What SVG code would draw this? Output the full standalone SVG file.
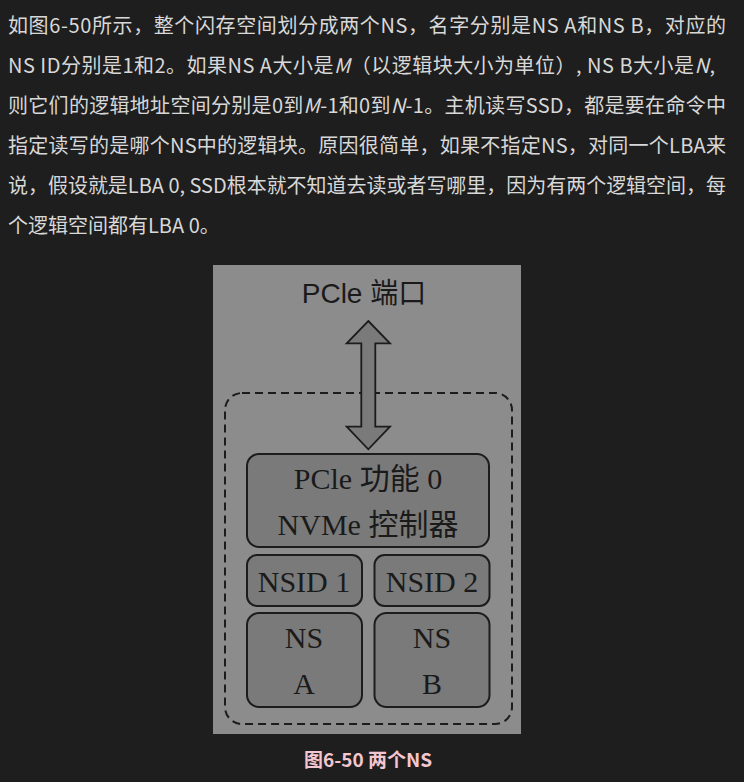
<svg xmlns="http://www.w3.org/2000/svg" width="744" height="782" viewBox="0 0 744 782">
<style>
.body{font-family:"Noto Sans CJK SC","Noto Sans",sans-serif;font-size:20px;fill:#d8d8d8}
.it{font-style:italic}
.box{fill:#7a7a7a;stroke:#1c1c1c;stroke-width:2}
.serif{font-family:"Liberation Serif","Noto Sans CJK SC",serif;font-size:30px;fill:#1a1a1a;text-anchor:middle}
.sans{font-family:"Liberation Sans","Noto Sans CJK SC",sans-serif;font-size:28px;fill:#1a1a1a;text-anchor:middle}
.cap{font-family:"Noto Sans CJK SC","Noto Sans",sans-serif;font-size:19px;font-weight:bold;fill:#f4c6cf;text-anchor:middle}
</style>
<rect x="0" y="0" width="744" height="782" fill="#1e1e1e"/>
<g id="paragraph">
<text class="body" x="8" y="33" textLength="718" lengthAdjust="spacing">如图6-50所示，整个闪存空间划分成两个NS，名字分别是NS A和NS B，对应的</text>
<text class="body" x="8" y="73" textLength="707" lengthAdjust="spacing">NS ID分别是1和2。如果NS A大小是<tspan class="it">M</tspan>（以逻辑块大小为单位）, NS B大小是<tspan class="it">N</tspan>,</text>
<text class="body" x="8" y="113" textLength="718" lengthAdjust="spacing">则它们的逻辑地址空间分别是0到<tspan class="it">M</tspan>-1和0到<tspan class="it">N</tspan>-1。主机读写SSD，都是要在命令中</text>
<text class="body" x="8" y="153" textLength="718" lengthAdjust="spacing">指定读写的是哪个NS中的逻辑块。原因很简单，如果不指定NS，对同一个LBA来</text>
<text class="body" x="8" y="193" textLength="718" lengthAdjust="spacing">说，假设就是LBA 0, SSD根本就不知道去读或者写哪里，因为有两个逻辑空间，每</text>
<text class="body" x="8" y="233">个逻辑空间都有LBA 0。</text>
</g>
<g id="figure-bg">
<rect x="213" y="265" width="308" height="469" fill="#8c8c8c"/>
</g>
<g id="pcie-port">
<text class="sans" x="364" y="303">PCle 端口</text>
</g>
<g id="device">
<rect x="225" y="393" width="287" height="331" rx="17" fill="none" stroke="#1c1c1c" stroke-width="2" stroke-dasharray="8 5"/>
</g>
<g id="connectors">
<path d="M368.3 321 L390 343.3 L375.3 343.3 L375.3 426.7 L390 426.7 L368.3 449.3 L346.7 426.7 L361.3 426.7 L361.3 343.3 L346.7 343.3 Z" fill="#7a7a7a" stroke="#1c1c1c" stroke-width="1.8" stroke-linejoin="miter"/>
</g>
<g id="controller">
<rect class="box" x="247" y="454" width="242" height="93" rx="12"/>
<text class="serif" x="368" y="489">PCle 功能 0</text>
<text class="serif" x="368" y="535">NVMe 控制器</text>
</g>
<g id="nsid1">
<rect class="box" x="247" y="555" width="115" height="51" rx="10"/>
<text class="serif" x="304" y="592">NSID 1</text>
</g>
<g id="nsid2">
<rect class="box" x="374.5" y="555" width="115" height="51" rx="10"/>
<text class="serif" x="432" y="592">NSID 2</text>
</g>
<g id="nsa">
<rect class="box" x="247" y="613" width="115" height="94" rx="12"/>
<text class="serif" x="304" y="648">NS</text>
<text class="serif" x="304" y="694">A</text>
</g>
<g id="nsb">
<rect class="box" x="374.5" y="613" width="115" height="94" rx="12"/>
<text class="serif" x="432" y="648">NS</text>
<text class="serif" x="432" y="694">B</text>
</g>
<g id="caption">
<text class="cap" x="368" y="767">图6-50 两个NS</text>
</g>
</svg>
